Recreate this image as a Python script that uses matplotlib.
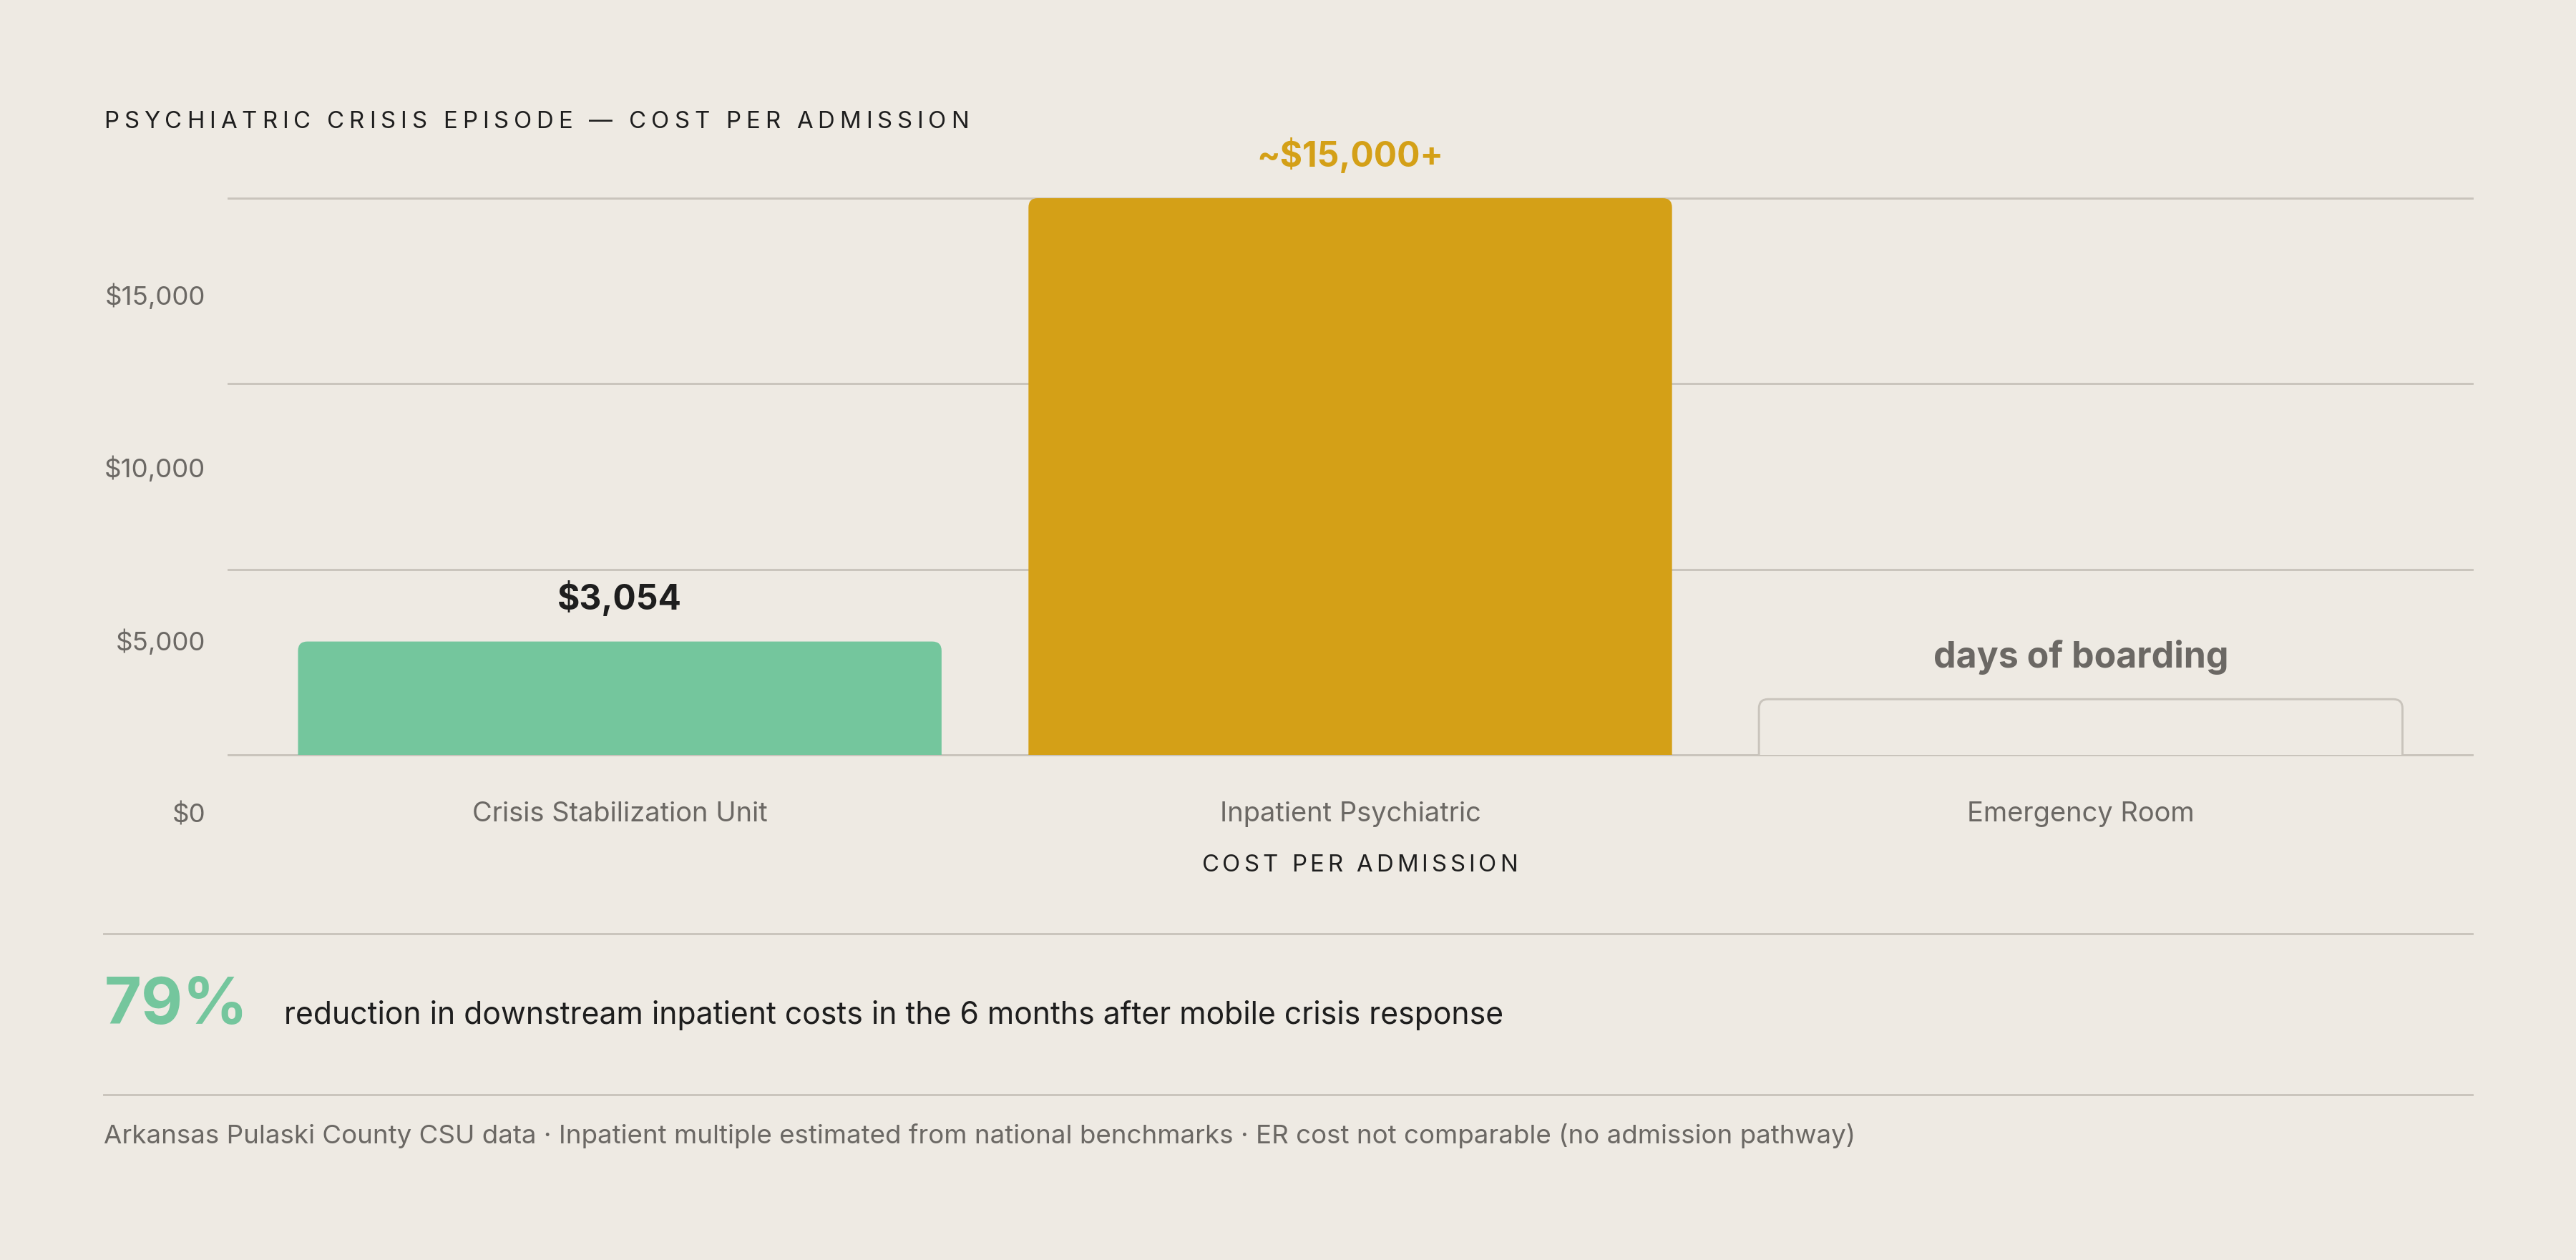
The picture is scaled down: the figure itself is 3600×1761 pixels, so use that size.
import numpy as np
import matplotlib
matplotlib.use("Agg")
import matplotlib.pyplot as plt
from matplotlib.patches import FancyBboxPatch
from matplotlib.lines import Line2D
from matplotlib.font_manager import FontProperties, findfont
from matplotlib.ft2font import FT2Font
from matplotlib.ticker import FuncFormatter

# data
categories = ["Crisis Stabilization Unit", "Inpatient Psychiatric", "Emergency Room"]
costs = [3054, 15000, 1500]
bar_labels = ["$3,054", "~$15,000+", "days of boarding"]
y_ticks = [0, 5000, 10000, 15000]

title = "PSYCHIATRIC CRISIS EPISODE \u2014 COST PER ADMISSION"
x_title = "COST PER ADMISSION"
headline_pct = "79%"
headline_text = "reduction in downstream inpatient costs in the 6 months after mobile crisis response"
footnote = ("Arkansas Pulaski County CSU data \u00b7 Inpatient multiple estimated from national "
            "benchmarks \u00b7 ER cost not comparable (no admission pathway)")

BG = "#EEEAE3"
GREEN = "#74C69D"
GOLD = "#D4A017"
GRID = "#C9C4BC"
INK = "#1E1E1E"
MUTED = "#6B6864"
FONT = ["Inter", "DejaVu Sans"]

W, H, DPI = 3600, 1761, 300
plt.rcParams["font.family"] = FONT

fig = plt.figure(figsize=(W / DPI, H / DPI), dpi=DPI, facecolor=BG)


def fx(px):
    return px / W


def fy(py):
    return 1 - py / H


def tracked(x, y, s, width, size, color, ha="left"):
    # letter-spaced caps, placed glyph by glyph (pixel coords, y from top)
    prop = FontProperties(family=FONT, size=size)
    ft = FT2Font(findfont(prop))
    ft.set_size(size, DPI)
    adv = [ft.load_char(ord(c)).linearHoriAdvance / 65536 for c in s]
    gap = (width - sum(adv)) / (len(s) - 1)
    if ha == "center":
        x -= width / 2
    for c, a in zip(s, adv):
        fig.text(fx(x), fy(y), c, fontsize=size, color=color, ha="left", va="baseline")
        x += a + gap


# main axes
ax = fig.add_axes([fx(319), fy(1055), fx(3455) - fx(319), fy(277) - fy(1055)])
ax.set_facecolor("none")
ax.set_xlim(-0.536, 2.536)
ax.set_ylim(0, 15000)
for s in ax.spines.values():
    s.set_visible(False)
for v in y_ticks:
    ax.axhline(v, color=GRID, lw=0.7, zorder=0, clip_on=False)
ax.set_yticks([])
ax.set_xticks(range(len(categories)), categories)
ax.tick_params(axis="x", length=0, pad=15.6, labelsize=9.15, labelcolor=MUTED)

# rounded bars
faces = [GREEN, GOLD, BG]
edges = [GREEN, GOLD, GRID]
lws = [0, 0, 0.7]
px_x = ax.bbox.width / np.ptp(ax.get_xlim())
px_y = ax.bbox.height / np.ptp(ax.get_ylim())
rad = 13
rx, ry = rad / px_x, rad / px_y
bars = ax.bar(range(len(costs)), costs, width=0.881)
for rect, fc, ec, lw in zip(bars, faces, edges, lws):
    x0, w, h = rect.get_x(), rect.get_width(), rect.get_height()
    rect.remove()
    ax.add_patch(FancyBboxPatch((x0, -ry), w, h + ry,
                                boxstyle=f"round,pad=0,rounding_size={rx}",
                                mutation_aspect=ry / rx,
                                facecolor=fc, edgecolor=ec, lw=lw, zorder=2))

label_colors = [INK, GOLD, MUTED]
label_sizes = [11.5, 11.5, 12]
for i, (v, t, c, fs) in enumerate(zip(costs, bar_labels, label_colors, label_sizes)):
    ax.annotate(t, (i, v), xytext=(0, 10.6), textcoords="offset points",
                ha="center", va="baseline", fontsize=fs, fontweight="bold",
                color=c, annotation_clip=False)

# y tick labels sit on their own (shifted) scale, like the source
ax_lab = fig.add_axes([fx(319), fy(1136), fx(3455) - fx(319), fy(411) - fy(1136)])
ax_lab.set_facecolor("none")
ax_lab.set_ylim(0, 15000)
ax_lab.set_yticks(y_ticks)
ax_lab.yaxis.set_major_formatter(FuncFormatter(lambda v, _: f"${v:,.0f}"))
ax_lab.set_xticks([])
for s in ax_lab.spines.values():
    s.set_visible(False)
ax_lab.tick_params(axis="y", length=0, pad=7.7, labelsize=8.8, labelcolor=MUTED)

# titles
tracked(145, 179, title, 1209, 7.9, INK)
tracked(1900, 1218, x_title, 441, 7.9, INK, ha="center")

# rules + callout
for yy in (1305, 1530):
    fig.add_artist(Line2D([fx(145), fx(3455)], [fy(yy), fy(yy)],
                          transform=fig.transFigure, color=GRID, lw=0.7))
fig.text(fx(146), fy(1431), headline_pct, fontsize=21.5, fontweight="bold",
         color=GREEN, va="baseline")
fig.text(fx(397), fy(1431), headline_text, fontsize=10.25, color=INK, va="baseline")
fig.text(fx(145), fy(1598), footnote, fontsize=8.82, color=MUTED, va="baseline")

fig.savefig("out.png", dpi=DPI, facecolor=BG)
